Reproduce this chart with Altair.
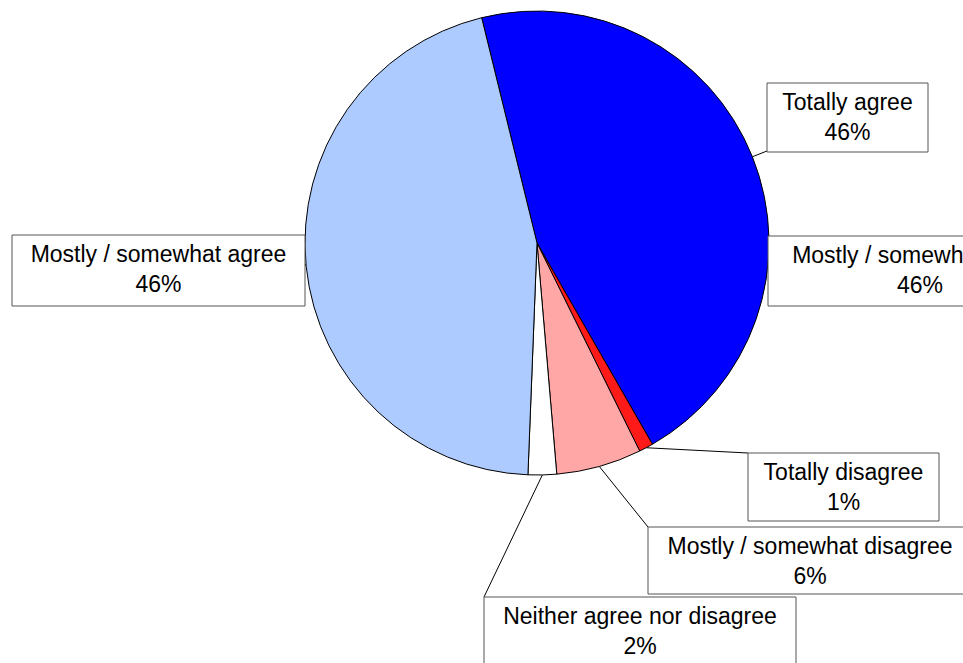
import math

import altair as alt
import pandas as pd

# Survey answers, listed clockwise from the top of the pie
categories = [
    "Totally agree",
    "Totally disagree",
    "Mostly / somewhat disagree",
    "Neither agree nor disagree",
    "Mostly / somewhat agree",
]
shares = [46, 1, 6, 2, 46]
slice_colors = ["#0000FF", "#FF1A1A", "#FFA6A6", "#FFFFFF", "#AECBFF"]

# Canvas and pie geometry (pixels)
W, H = 963, 663
CX, CY, R = 537, 243, 232
START_DEG = -13.8
FONT = "Liberation Sans"
FONT_SIZE = 23

# Callout boxes: category -> (left, top, right, bottom, leader end x, leader end y)
callouts = [
    ("Totally agree", 767, 83, 928, 152, 767, 151),
    ("Totally disagree", 748, 453, 939, 521, 748, 453),
    ("Mostly / somewhat disagree", 648, 527, 972, 594, 648, 527),
    ("Neither agree nor disagree", 484, 597, 796, 690, 484, 597),
    ("Mostly / somewhat agree", 12, 235, 305, 306, 305, 264),
    ("Mostly / somewhat agree", 768, 236, 1072, 306, None, None),
]

pie_df = pd.DataFrame(
    {
        "category": categories,
        "share": shares,
        "color": slice_colors,
        "order": list(range(len(categories))),
    }
)

# Mid-angle of every slice, used as the start of its leader line
total = sum(shares)
mid_angle = {}
acc = 0.0
for cat, v in zip(categories, shares):
    mid_angle[cat] = math.radians(START_DEG) + (acc + v / 2) / total * 2 * math.pi
    acc += v

share_of = dict(zip(categories, shares))
box_rows, leader_rows = [], []
for cat, l, t, r, b, ex, ey in callouts:
    box_rows.append(
        {
            "category": cat,
            "l": l, "t": t, "r": r, "b": b,
            "cx": (l + r) / 2,
            "y1": t + 20,
            "y2": t + 50,
            "pct": f"{share_of[cat]}%",
        }
    )
    if ex is not None:
        a = mid_angle[cat]
        leader_rows.append(
            {
                "sx": CX + R * math.sin(a),
                "sy": CY - R * math.cos(a),
                "ex": ex,
                "ey": ey,
            }
        )

box_df = pd.DataFrame(box_rows)
leader_df = pd.DataFrame(leader_rows)

px = alt.Scale(domain=[0, W], range=[0, W])
py = alt.Scale(domain=[0, H], range=[0, H])

start = math.radians(START_DEG)
pie = (
    alt.Chart(pie_df)
    .mark_arc(radius=R, stroke="#000000", strokeWidth=1)
    .encode(
        theta=alt.Theta(
            "share:Q",
            stack=True,
            scale=alt.Scale(range=[start, start + 2 * math.pi]),
        ),
        color=alt.Color("color:N", scale=None),
        order=alt.Order("order:Q"),
        x=alt.value(CX),
        y=alt.value(CY),
    )
)

leaders = (
    alt.Chart(leader_df)
    .mark_rule(color="#000000", strokeWidth=1)
    .encode(
        x=alt.X("sx:Q", scale=px, axis=None),
        y=alt.Y("sy:Q", scale=py, axis=None),
        x2="ex:Q",
        y2="ey:Q",
    )
)

boxes = (
    alt.Chart(box_df)
    .mark_rect(fill="#FFFFFF", stroke="#555555", strokeWidth=1)
    .encode(
        x=alt.X("l:Q", scale=px, axis=None),
        x2="r:Q",
        y=alt.Y("t:Q", scale=py, axis=None),
        y2="b:Q",
    )
)

names = (
    alt.Chart(box_df)
    .mark_text(font=FONT, fontSize=FONT_SIZE, color="#000000", baseline="middle", align="center")
    .encode(
        x=alt.X("cx:Q", scale=px, axis=None),
        y=alt.Y("y1:Q", scale=py, axis=None),
        text="category:N",
    )
)

pcts = (
    alt.Chart(box_df)
    .mark_text(font=FONT, fontSize=FONT_SIZE, color="#000000", baseline="middle", align="center")
    .encode(
        x=alt.X("cx:Q", scale=px, axis=None),
        y=alt.Y("y2:Q", scale=py, axis=None),
        text="pct:N",
    )
)

chart = (
    alt.layer(leaders, pie, boxes, names, pcts)
    .resolve_scale(x="shared", y="shared")
    .properties(width=W, height=H, autosize=alt.AutoSizeParams(type="none"), padding=0, background="#FFFFFF")
    .configure_view(stroke=None)
)

chart.save("out.html", embed_options={"renderer": "svg", "actions": False})
